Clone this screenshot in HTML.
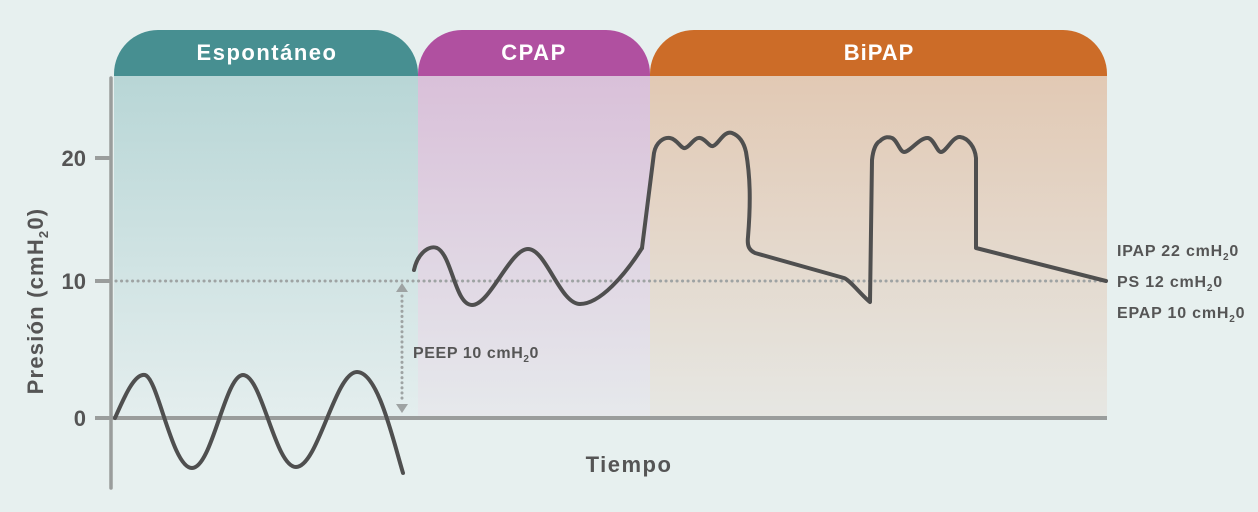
<!DOCTYPE html>
<html><head><meta charset="utf-8">
<style>
html,body{margin:0;padding:0;background:#e7f0ef;}
svg{display:block;}
text{font-family:"Liberation Sans",sans-serif;font-weight:bold;}
</style></head>
<body>
<svg width="1258" height="512" viewBox="0 0 1258 512" xmlns="http://www.w3.org/2000/svg">
<defs>
<linearGradient id="gT" x1="0" y1="0" x2="0" y2="1"><stop offset="0" stop-color="#b8d6d6"/><stop offset="1" stop-color="#e4eeee"/></linearGradient>
<linearGradient id="gP" x1="0" y1="0" x2="0" y2="1"><stop offset="0" stop-color="#d9c0d9"/><stop offset="1" stop-color="#e6e9ec"/></linearGradient>
<linearGradient id="gO" x1="0" y1="0" x2="0" y2="1"><stop offset="0" stop-color="#e2c9b4"/><stop offset="1" stop-color="#e6e7e3"/></linearGradient>
</defs>
<rect width="1258" height="512" fill="#e7f0ef"/>
<!-- panels -->
<rect x="114" y="76" width="304" height="342" fill="url(#gT)"/>
<rect x="418" y="76" width="232" height="342" fill="url(#gP)"/>
<rect x="650" y="76" width="457" height="342" fill="url(#gO)"/>
<!-- headers -->
<path d="M114,76 V74 A44,44 0 0 1 158,30 H374 A44,44 0 0 1 418,74 V76 Z" fill="#478f91"/>
<path d="M418,76 V74 A44,44 0 0 1 462,30 H606 A44,44 0 0 1 650,74 V76 Z" fill="#b050a0"/>
<path d="M650,76 V74 A44,44 0 0 1 694,30 H1063 A44,44 0 0 1 1107,74 V76 Z" fill="#cc6c28"/>
<text x="267" y="60" font-size="22" letter-spacing="1.5" fill="#fff" text-anchor="middle">Espontáneo</text>
<text x="534" y="60" font-size="22" letter-spacing="1.5" fill="#fff" text-anchor="middle">CPAP</text>
<text x="879" y="60" font-size="22" letter-spacing="1" fill="#fff" text-anchor="middle">BiPAP</text>
<!-- axes -->
<line x1="111" y1="78" x2="111" y2="488" stroke="#9a9d9c" stroke-width="3.5" stroke-linecap="round"/>
<line x1="111" y1="418" x2="1107" y2="418" stroke="#9a9d9c" stroke-width="4"/>
<line x1="95" y1="158" x2="111" y2="158" stroke="#9a9d9c" stroke-width="4"/>
<line x1="95" y1="281" x2="111" y2="281" stroke="#9a9d9c" stroke-width="4"/>
<line x1="95" y1="418" x2="111" y2="418" stroke="#9a9d9c" stroke-width="4"/>
<text x="86" y="166" font-size="22" fill="#555" text-anchor="end">20</text>
<text x="86" y="289" font-size="22" fill="#555" text-anchor="end">10</text>
<text x="86" y="426" font-size="22" fill="#555" text-anchor="end">0</text>
<text transform="translate(43,301) rotate(-90)" font-size="22" letter-spacing="1.2" fill="#555" text-anchor="middle">Presión (cmH<tspan font-size="13" dy="5">2</tspan><tspan dy="-5">0)</tspan></text>
<text x="629" y="472" font-size="22" letter-spacing="1.5" fill="#555" text-anchor="middle">Tiempo</text>
<!-- dotted line -->
<line x1="116" y1="281" x2="1107" y2="281" stroke="#9ea3a3" stroke-width="3" stroke-dasharray="0.1 5.4" stroke-linecap="round"/>
<!-- PEEP arrow -->
<line x1="402" y1="296" x2="402" y2="402" stroke="#9ea3a3" stroke-width="3" stroke-dasharray="0.1 5" stroke-linecap="round"/>
<path d="M396,292 L402,283 L408,292 Z" fill="#9ea3a3"/>
<path d="M396,404 L402,413 L408,404 Z" fill="#9ea3a3"/>
<text x="413" y="358" font-size="16" letter-spacing="0.6" fill="#555">PEEP 10 cmH<tspan font-size="10" dy="4">2</tspan><tspan dy="-4">0</tspan></text>
<!-- right labels -->
<text x="1117" y="256" font-size="16" letter-spacing="0.8" fill="#555">IPAP 22 cmH<tspan font-size="10" dy="4">2</tspan><tspan dy="-4">0</tspan></text>
<text x="1117" y="287" font-size="16" letter-spacing="0.8" fill="#555">PS 12 cmH<tspan font-size="10" dy="4">2</tspan><tspan dy="-4">0</tspan></text>
<text x="1117" y="318" font-size="16" letter-spacing="0.8" fill="#555">EPAP 10 cmH<tspan font-size="10" dy="4">2</tspan><tspan dy="-4">0</tspan></text>
<!-- curves -->
<g fill="none" stroke="#4f4f4f" stroke-width="4" stroke-linecap="round" stroke-linejoin="round">
<path d="M115,418 C125,395 135,373 145,375 C158,378 172,468 192,468 C212,468 225,375 243,375 C262,375 275,467 296,467 C318,467 335,372 357,372 C378,372 393,440 403,473"/>
<path d="M414,270 C418,252 430,245 437,248 C452,255 455,305 472,305 C490,305 510,249 528,249 C546,249 560,304 580,304 C600,304 625,275 642,248"/>
<path d="M642,248 L654,153 C656,142 664,137 670,138 C677,139 681,149 685,148 C690,147 694,137 700,138 C706,139 709,147 713,146 C718,145 724,130 732,133 C740,136 744,143 746,152 C750,175 751,200 748,237 C747,246 749,250 755,253 L844,278 C850,280 862,296 870,302 L872,160 C873,150 876,143 880,141 C885,136 889,137 892,138 C897,140 900,152 904,152 C910,152 920,137 928,138 C934,139 937,152 941,152 C946,152 953,136 960,137 C968,138 975,147 976,158 L976,248 L1106,281"/>
</g>
</svg>
</body></html>
